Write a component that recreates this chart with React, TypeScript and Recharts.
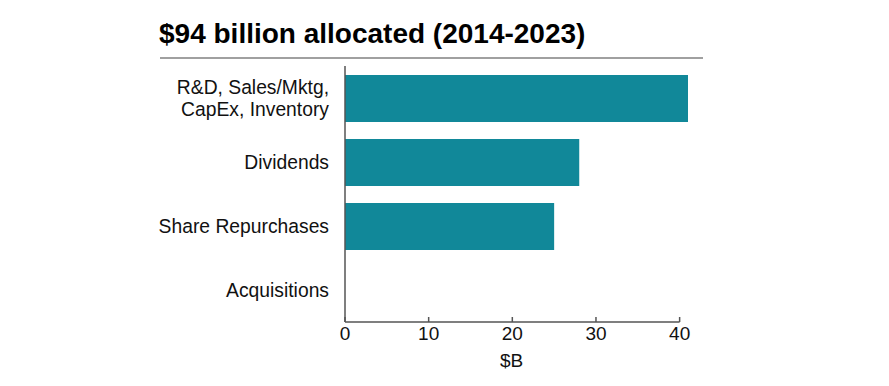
import React from 'react';
import { BarChart, Bar, XAxis, YAxis } from 'recharts';

const categories = ['R&D, Sales/Mktg,\nCapEx, Inventory', 'Dividends', 'Share Repurchases', 'Acquisitions'];
const values = [41, 28, 25, 0];
const xTicks = [0, 10, 20, 30, 40];
const title = '$94 billion allocated (2014-2023)';
const xLabel = '$B';

const data = categories.map((c, i) => ({ name: c, value: values[i] }));

const FONT = '"Liberation Sans", Arial, Helvetica, sans-serif';

const CategoryTick = (props: any) => {
  const { x, y, payload } = props;
  const lines = String(payload.value).split('\n');
  const n = lines.length;
  const lh = 22.5;
  return (
    <g>
      {lines.map((l, i) => (
        <text
          key={i}
          x={x}
          y={y + 6.8 + (i - (n - 1) / 2) * lh}
          textAnchor="end"
          fontSize={19.3}
          fontFamily={FONT}
          fill="#111"
        >
          {l}
        </text>
      ))}
    </g>
  );
};

export default function App() {
  return (
    <div style={{ position: 'absolute', left: 0, top: 0, width: 889, height: 386, background: '#fff', fontFamily: FONT }}>
      <div
        style={{
          position: 'absolute',
          left: 159,
          top: 20.3,
          fontSize: 28,
          lineHeight: '28px',
          fontWeight: 'bold',
          color: '#000',
          whiteSpace: 'nowrap',
        }}
      >
        {title}
      </div>
      <div style={{ position: 'absolute', left: 160, top: 56.5, width: 543, height: 2, background: '#a0a0a0' }} />
      <BarChart
        width={889}
        height={386}
        data={data}
        layout="vertical"
        margin={{ top: 66, right: 201, bottom: 0, left: 0 }}
        barSize={47}
      >
        <XAxis
          type="number"
          dataKey="value"
          domain={[0, 41]}
          ticks={xTicks}
          interval={0}
          height={64}
          axisLine={{ stroke: '#555', strokeWidth: 1.5, strokeDasharray: '334.6 100' }}
          tickLine={{ stroke: '#555', strokeWidth: 1.5 }}
          tickSize={-5}
          tickMargin={10}
          tick={{ fill: '#111', fontSize: 19, fontFamily: FONT }}
          label={{ value: xLabel, position: 'insideBottom', offset: 19, dx: -5, fill: '#111', fontSize: 19, fontFamily: FONT }}
        />
        <YAxis
          type="category"
          dataKey="name"
          width={345}
          axisLine={{ stroke: '#555', strokeWidth: 1.5 }}
          tickLine={false}
          tickSize={0}
          tickMargin={16}
          interval={0}
          tick={<CategoryTick />}
        />
        <Bar dataKey="value" fill="#118899" isAnimationActive={false} />
      </BarChart>
    </div>
  );
}
